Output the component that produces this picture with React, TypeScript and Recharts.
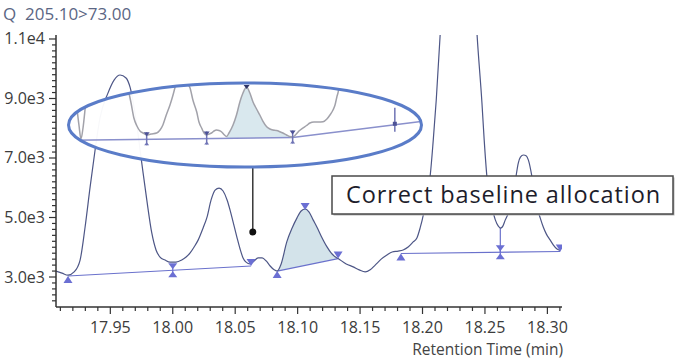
import {
  Area,
  ComposedChart,
  Line,
  ReferenceDot,
  ReferenceLine,
  Scatter,
  XAxis,
  YAxis,
} from 'recharts'

type Pair = [number, number]
type Mark = { t: number; v: number; kind: string }

const FONT = '"Open Sans", "Noto Sans", sans-serif'

const title = 'Q  205.10>73.00'
const xTitle = 'Retention Time (min)'
const note = 'Correct baseline allocation'

const yMajor = [3000, 5000, 7000, 9000, 11000]
const yLabels = ['3.0e3', '5.0e3', '7.0e3', '9.0e3', '1.1e4']
const xMajor = [17.95, 18.0, 18.05, 18.1, 18.15, 18.2, 18.25, 18.3]
const xLabels = ['17.95', '18.00', '18.05', '18.10', '18.15', '18.20', '18.25', '18.30']

// minor ticks: every 200 counts, every 0.01 min
const yTicks = Array.from({ length: 45 }, (_, i) => 2200 + i * 200)
const xTicks = Array.from({ length: 41 }, (_, i) => Math.round((17.91 + i * 0.01) * 100) / 100)

// [time (min), intensity]
const mainTrace: Pair[] = [
  [17.9065, 3200], [17.9113, 3130], [17.9161, 3060], [17.921, 3170], [17.9258, 3570],
  [17.9298, 4680], [17.9338, 6020], [17.9378, 7270], [17.9417, 8340], [17.9481, 9180],
  [17.953, 9620], [17.9578, 9790], [17.9626, 9690], [17.9658, 9380], [17.9706, 8280],
  [17.9752, 6830], [17.9792, 5590], [17.9832, 4480], [17.9866, 3910], [17.9898, 3670],
  [17.9938, 3570], [17.9978, 3500], [18.0026, 3500], [18.0072, 3570], [18.0107, 3670],
  [18.0139, 3810], [18.0171, 4010], [18.0203, 4240], [18.0243, 4650], [18.0275, 5020],
  [18.0307, 5590], [18.0339, 5920], [18.0371, 5990], [18.0403, 5890], [18.0435, 5590],
  [18.0459, 5250], [18.0483, 4850], [18.0513, 4350], [18.0539, 3940], [18.0563, 3640],
  [18.0587, 3500], [18.0619, 3440], [18.0651, 3540], [18.0683, 3640], [18.0716, 3640],
  [18.0748, 3540], [18.078, 3370], [18.0812, 3240], [18.0836, 3200], [18.0868, 3440],
  [18.0913, 4180], [18.0956, 4650], [18.0994, 4980], [18.1028, 5220], [18.106, 5285],
  [18.1092, 5180], [18.1124, 4920], [18.1154, 4680], [18.1188, 4380], [18.1234, 4020],
  [18.1268, 3810], [18.13, 3680], [18.1324, 3620], [18.1389, 3440], [18.1445, 3340],
  [18.1493, 3240], [18.1541, 3170], [18.1581, 3240], [18.1621, 3400], [18.1669, 3600],
  [18.1715, 3740], [18.1757, 3840], [18.1805, 3870], [18.1845, 3910], [18.1885, 4010],
  [18.1925, 4180], [18.1955, 4310], [18.1981, 4650], [18.2006, 5080], [18.203, 5690],
  [18.2062, 6430], [18.2086, 7600], [18.211, 8950], [18.2142, 11200], [18.219, 15000],
  [18.229, 17500], [18.239, 15000], [18.2436, 11200], [18.2476, 8850], [18.2494, 7600],
  [18.2516, 6360], [18.2534, 5760], [18.2556, 5350], [18.2583, 4920], [18.2607, 4710],
  [18.2623, 4646], [18.2639, 4680], [18.2663, 4920], [18.2704, 5350], [18.2744, 6260],
  [18.2767, 6830], [18.2784, 7030], [18.2808, 7100], [18.2832, 7070], [18.2848, 6930],
  [18.2877, 6360], [18.2896, 5860], [18.2917, 5350], [18.2943, 4980], [18.2967, 4680],
  [18.2991, 4450], [18.3023, 4240], [18.3047, 4080], [18.3077, 3940], [18.3103, 3890],
]

const baseline1: Pair[] = [[17.9161, 3034], [18.0627, 3370]]
const baseline2: Pair[] = [[18.0836, 3200], [18.1324, 3620]]
const baseline3: Pair[] = [[18.1827, 3790], [18.3103, 3857]]
const dropLine: Pair[] = [[18.2623, 4646], [18.2623, 3830]]

const mainMarks: Mark[] = [
  { t: 17.9161, v: 3034, kind: 'up' },
  { t: 18.0, v: 3228, kind: 'both' },
  { t: 18.0627, v: 3370, kind: 'down' },
  { t: 18.0836, v: 3200, kind: 'up' },
  { t: 18.106, v: 5285, kind: 'peak' },
  { t: 18.1324, v: 3620, kind: 'down' },
  { t: 18.1827, v: 3790, kind: 'up' },
  { t: 18.2623, v: 3830, kind: 'both' },
  { t: 18.3103, v: 3857, kind: 'down' },
]

// zoomed view inside the ellipse
const insetTrace: Pair[] = [
  [18.0237, 6500], [18.0271, 4764], [18.0286, 3787], [18.0296, 3239], [18.0306, 3669],
  [18.0321, 4764], [18.0341, 5937], [18.044, 7100], [18.0513, 5937], [18.0528, 5233],
  [18.0543, 4647], [18.0557, 4060], [18.0572, 3747], [18.0587, 3552], [18.0602, 3474],
  [18.062, 3396], [18.0641, 3435], [18.0669, 3474], [18.0686, 3591], [18.07, 3787],
  [18.0715, 4138], [18.0735, 4569], [18.075, 4960], [18.0764, 5390], [18.0794, 6328],
  [18.0824, 5390], [18.0834, 5233], [18.0848, 4764], [18.0867, 4295], [18.0878, 3904],
  [18.0891, 3669], [18.0903, 3474], [18.0916, 3396], [18.0927, 3435], [18.094, 3474],
  [18.0952, 3552], [18.0965, 3591], [18.0977, 3571], [18.099, 3513], [18.1001, 3415],
  [18.1014, 3337], [18.1026, 3474], [18.1046, 3787], [18.1063, 4178], [18.108, 4698],
  [18.1095, 5038], [18.1113, 5272], [18.1129, 5038], [18.1144, 4698], [18.1162, 4412],
  [18.1178, 4178], [18.1193, 3943], [18.1212, 3720], [18.1228, 3630], [18.1243, 3591],
  [18.1261, 3571], [18.1277, 3525], [18.1292, 3474], [18.131, 3396], [18.1325, 3337],
  [18.134, 3317], [18.1356, 3415], [18.1371, 3552], [18.139, 3669], [18.1409, 3767],
  [18.1425, 3865], [18.1445, 3904], [18.1465, 3904], [18.149, 3916], [18.1509, 4021],
  [18.1524, 4178], [18.1539, 4373], [18.1549, 4569], [18.1558, 4881], [18.1565, 5089],
  [18.1571, 5390], [18.1585, 6200],
]

const insetBaseA: Pair[] = [[18.0252, 3188], [18.134, 3298]]
const insetBaseB: Pair[] = [[18.134, 3298], [18.1973, 3923]]
const insetPeakBase: Pair[] = [[18.1014, 3265], [18.134, 3298]]

const insetMarks: Mark[] = [
  { t: 18.062, v: 3225, kind: 'pin' },
  { t: 18.0916, v: 3255, kind: 'pin' },
  { t: 18.134, v: 3298, kind: 'pin' },
  { t: 18.1844, v: 3796, kind: 'tall' },
  { t: 18.1113, v: 5272, kind: 'tip' },
]

// where the zoom callout points to
const callout = { t: 18.0641, top: 6696, bottom: 4512 }

const toPts = (pairs: Pair[]) => pairs.map(([t, v]) => ({ t, v }))

// shaded peak: trace on top, the straight baseline below
const fillUnder = (pairs: Pair[], base: Pair[]) => {
  const [[t0, v0], [t1, v1]] = base
  return pairs
    .filter(([t]) => t >= t0 - 1e-9 && t <= t1 + 1e-9)
    .map(([t, v]) => ({ t, r: [v0 + ((t - t0) / (t1 - t0)) * (v1 - v0), v] }))
}

const tri = (cx: number, y: number, dir: number, w: number, h: number) =>
  `M${cx} ${y} L${cx - w} ${y + dir * h} L${cx + w} ${y + dir * h} Z`

const renderMark = (props: any) => {
  const { cx, cy, payload } = props
  if (cx == null || cy == null) return <g />
  const c = '#6b6fd3'
  const ic = '#6f74b5'
  switch (payload.kind) {
    case 'up':
      return <path d={tri(cx, cy, 1, 4.5, 7)} fill={c} />
    case 'down':
      return <path d={tri(cx, cy, -1, 4.5, 7)} fill={c} />
    case 'peak':
      return <path d={tri(cx, cy + 1, -1, 4.5, 7)} fill={c} />
    case 'both':
      return (
        <g>
          <line x1={cx} x2={cx} y1={cy - 6} y2={cy + 6} stroke={c} strokeWidth={1.2} />
          <path d={tri(cx, cy - 1, -1, 4.5, 6)} fill={c} />
          <path d={tri(cx, cy + 1, 1, 4.5, 6)} fill={c} />
        </g>
      )
    case 'pin':
      return (
        <g>
          <line x1={cx} x2={cx} y1={cy - 7} y2={cy + 6} stroke={ic} strokeWidth={1.5} />
          <path d={tri(cx, cy - 3, -1, 3, 4)} fill="#4d5296" />
          <path d={tri(cx, cy + 3, 1, 2.5, 3)} fill={ic} />
        </g>
      )
    case 'tall':
      return (
        <g>
          <line x1={cx} x2={cx} y1={cy - 17} y2={cy + 7} stroke={ic} strokeWidth={1.5} />
          <rect x={cx - 2} y={cy - 3} width={4} height={4} fill="#4d5296" />
        </g>
      )
    default:
      return <path d={tri(cx, cy + 2, -1, 3, 4)} fill="#2f3566" />
  }
}

const renderYTick = ({ x, y, payload }: any) => {
  const i = yMajor.indexOf(payload.value)
  return (
    <g>
      <line x1={x - (i >= 0 ? 7 : 4)} x2={x} y1={y} y2={y} stroke="#333" strokeWidth={1.2} />
      {i >= 0 && (
        <text x={x - 11} y={y} dy={5.5} textAnchor="end" fontSize={16} fill="#3c3c3c" fontFamily={FONT}>
          {yLabels[i]}
        </text>
      )}
    </g>
  )
}

const renderXTick = ({ x, y, payload }: any) => {
  const i = xMajor.findIndex((m) => Math.abs(m - payload.value) < 1e-6)
  return (
    <g>
      <line x1={x} x2={x} y1={y} y2={y + (i >= 0 ? 7 : 4)} stroke="#333" strokeWidth={1.2} />
      {i >= 0 && (
        <text x={x} y={y} dy={26} textAnchor="middle" fontSize={16} fill="#3c3c3c" fontFamily={FONT}>
          {xLabels[i]}
        </text>
      )}
    </g>
  )
}

const App = () => {
  const mainFill = fillUnder(mainTrace, baseline2)
  const insetFill = fillUnder(insetTrace, insetPeakBase)

  return (
    <div style={{ position: 'absolute', left: 0, top: 0, width: 675, height: 360, background: '#fff' }}>
      <div style={{ position: 'absolute', left: 0, top: 0 }}>
        <ComposedChart width={675} height={360} margin={{ top: 35, right: 113, bottom: 23, left: 0 }}>
          <XAxis
            dataKey="t"
            type="number"
            domain={[17.9065, 18.3117]}
            ticks={xTicks}
            interval={0}
            tick={renderXTick}
            tickSize={0}
            tickMargin={0}
            tickLine={false}
            axisLine={{ stroke: '#333', strokeWidth: 1.5 }}
            height={30}
            allowDataOverflow
          />
          <YAxis
            type="number"
            domain={[1992, 11134]}
            ticks={yTicks}
            interval={0}
            tick={renderYTick}
            tickSize={0}
            tickMargin={0}
            tickLine={false}
            axisLine={{ stroke: '#333', strokeWidth: 1.5 }}
            width={56}
            allowDataOverflow
          />
          <Area data={mainFill} dataKey="r" type="monotone" fill="#d3e3ea" fillOpacity={1} stroke="none" isAnimationActive={false} />
          {[baseline1, baseline2, baseline3, dropLine].map((b, i) => (
            <Line key={i} data={toPts(b)} dataKey="v" type="linear" stroke="#6a71cc" strokeWidth={1.2} dot={false} activeDot={false} isAnimationActive={false} />
          ))}
          <Line data={toPts(mainTrace)} dataKey="v" type="monotone" stroke="#4d5686" strokeWidth={1.2} dot={false} activeDot={false} isAnimationActive={false} />
          <Scatter data={mainMarks} dataKey="v" shape={renderMark} isAnimationActive={false} />
          <ReferenceLine
            segment={[{ x: callout.t, y: callout.top }, { x: callout.t, y: callout.bottom }]}
            stroke="#1a1a1a"
            strokeWidth={1.3}
          />
          <ReferenceDot x={callout.t} y={callout.bottom} r={3.5} fill="#111" stroke="none" />
        </ComposedChart>
      </div>

      <div
        style={{
          position: 'absolute',
          left: 68,
          top: 83,
          width: 354,
          height: 84,
          clipPath: 'ellipse(177px 42px at 177px 42px)',
          background: 'rgba(255,255,255,0.96)',
        }}
      >
        <ComposedChart width={354} height={84} margin={{ top: 0, right: 0, bottom: 0, left: 0 }}>
          <XAxis dataKey="t" type="number" domain={[18.0232, 18.1978]} hide allowDataOverflow />
          <YAxis type="number" domain={[2144, 5430]} hide allowDataOverflow />
          <Area data={insetFill} dataKey="r" type="monotone" fill="#d9e8ee" fillOpacity={1} stroke="none" isAnimationActive={false} />
          {[insetBaseA, insetBaseB].map((b, i) => (
            <Line key={i} data={toPts(b)} dataKey="v" type="linear" stroke="#8a90cc" strokeWidth={1.5} dot={false} activeDot={false} isAnimationActive={false} />
          ))}
          <Line data={toPts(insetTrace)} dataKey="v" type="monotone" stroke="#a2a2aa" strokeWidth={1.5} dot={false} activeDot={false} isAnimationActive={false} />
          <Scatter data={insetMarks} dataKey="v" shape={renderMark} isAnimationActive={false} />
        </ComposedChart>
      </div>

      <svg width={675} height={360} style={{ position: 'absolute', left: 0, top: 0, pointerEvents: 'none' }}>
        <text x={3} y={20} fontSize={17} fill="#5b6684" fontFamily={FONT} style={{ whiteSpace: 'pre' }}>
          {title}
        </text>
        <ellipse cx={245} cy={125} rx={176.5} ry={42} fill="none" stroke="#5a7cc8" strokeWidth={3} />
        <rect x={333.5} y={177.5} width={341} height={38} fill="#b5b5b5" />
        <rect x={332} y={176} width={341} height={38} fill="#fff" stroke="#4a4a4a" strokeWidth={1.5} />
        <text x={346} y={203} fontSize={23.5} letterSpacing={0.9} fill="#1d1d2b" fontFamily={FONT}>
          {note}
        </text>
        <text x={563} y={355} fontSize={15.5} textAnchor="end" fill="#444" fontFamily={FONT}>
          {xTitle}
        </text>
      </svg>
    </div>
  )
}

export default App
